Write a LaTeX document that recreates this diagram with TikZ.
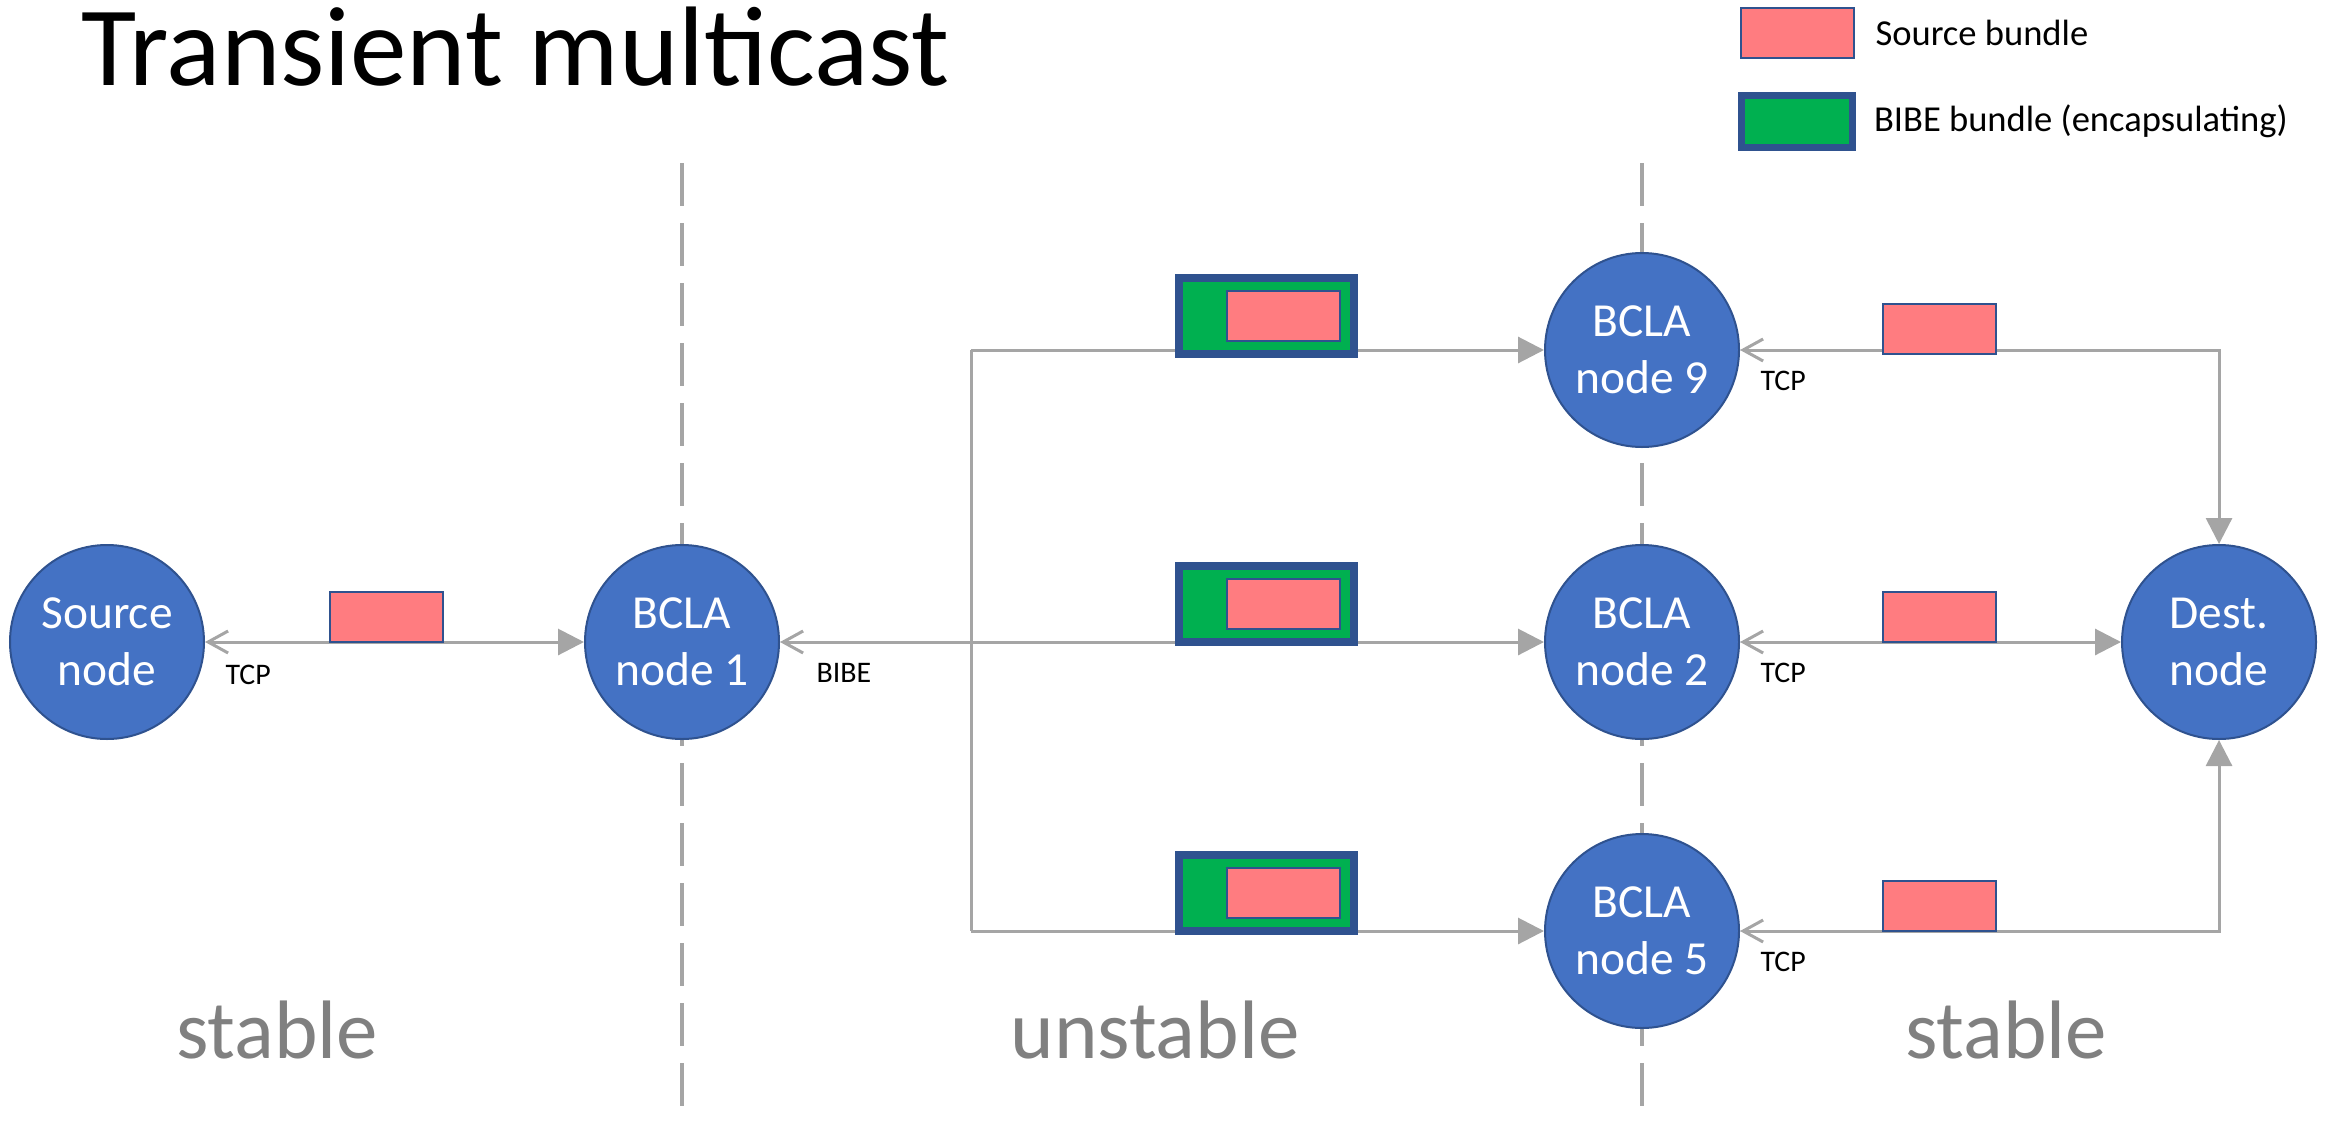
\documentclass[tikz,border=0pt]{standalone}
\usepackage{fontspec}
\setmainfont{Carlito}
\usetikzlibrary{shapes,arrows.meta,positioning,backgrounds}

\definecolor{nodeblue}{HTML}{4472C4}
\definecolor{nodeedge}{HTML}{2F528F}
\definecolor{bpink}{HTML}{FF7C80}
\definecolor{bgreen}{HTML}{00B050}
\definecolor{lgray}{HTML}{A5A5A5}
\definecolor{tgray}{HTML}{808080}

\begin{document}
\begin{tikzpicture}[x=1mm, y=1mm, line width=0.3mm, node distance=37.9mm,
                    >={Triangle[length=2.6mm,width=2.6mm]}]
\tikzstyle{bcla}=[circle, draw=nodeedge, fill=nodeblue, line width=0.2mm,
                  minimum size=19.4mm, inner sep=0pt, text=white, align=center,
                  font=\fontsize{13.5}{16.2}\selectfont]
\tikzstyle{link}=[draw=lgray, line width=0.3mm]
\tikzstyle{both}=[link, {Straight Barb[length=2mm,width=2.2mm]}-{Triangle[length=2.6mm,width=2.6mm]}]
\tikzstyle{barb}=[link, {Straight Barb[length=2mm,width=2.2mm]}-]
\tikzstyle{srcb}=[rectangle, draw=nodeedge, fill=bpink, line width=0.2mm,
                  minimum width=11.3mm, minimum height=5mm, inner sep=0pt, outer sep=0pt]
\tikzstyle{bibeb}=[rectangle, draw=nodeedge, fill=bgreen, line width=0.8mm,
                   minimum width=17.5mm, minimum height=7.6mm, inner sep=0pt, outer sep=0pt]
\tikzstyle{proto}=[font=\fontsize{8.5}{10}\selectfont, inner sep=0pt, anchor=base west]
\tikzstyle{region}=[font=\fontsize{23.6}{28}\selectfont, text=tgray, inner sep=0pt, anchor=base]
\tikzstyle{divider}=[draw=lgray, line width=0.4mm, dash pattern=on 4.3mm off 1.7mm]

\useasboundingbox (0,0) rectangle (233,-112.3);

\node [anchor=base west, inner sep=0pt, font=\fontsize{32.2}{36}\selectfont] (title) at (8.0,-8.5) {Transient multicast};

\node [bcla] (src) at (10.7,-64.2) {Source\\node};
\node [bcla] (n1) [right=of src] {BCLA\\node 1};
\node [bcla] (n2) [right=76.4mm of n1] {BCLA\\node 2};
\node [bcla] (n9) [above=9.6mm of n2] {BCLA\\node 9};
\node [bcla] (n5) [below=9.3mm of n2] {BCLA\\node 5};
\node [bcla] (dst) [right=38.1mm of n2] {Dest.\\node};
\coordinate [right=19.1mm of n1] (split);

\coordinate (top) at (0,-16.3);
\coordinate (bot) at (0,-112.3);
\begin{scope}[on background layer]
\draw [divider] (n1 |- top) -- (n1 |- bot);
\draw [divider] (n2 |- top) -- (n2 |- bot);
\end{scope}

\draw [both] (src) -- (n1);
\draw [barb] (n1) -- (split);
\draw [link] (split |- n9) -- (split |- n5);
\draw [link, ->] (split |- n9) -- (n9);
\draw [link, ->] (split) -- (n2);
\draw [link, ->] (split |- n5) -- (n5);

\draw [both] (n9) -- (n9 -| dst) -- (dst);
\draw [both] (n2) -- (dst);
\draw [both] (n5) -- (n5 -| dst) -- (dst);

\node [srcb, anchor=south] (b0) at (38.65,-64.2) {};

\node [bibeb, anchor=south] (g9) at (126.65,-35.4) {};
\node [bibeb, anchor=south] (g2) at (126.65,-64.2) {};
\node [bibeb, anchor=south] (g5) at (126.65,-93.1) {};
\node [srcb] (p9) at ([xshift=1.65mm]g9.center) {};
\node [srcb] (p2) at ([xshift=1.65mm]g2.center) {};
\node [srcb] (p5) at ([xshift=1.65mm]g5.center) {};

\node [srcb, anchor=south] (b9) at (193.9,-35.4) {};
\node [srcb, anchor=south] (b2) at (193.9,-64.2) {};
\node [srcb, anchor=south] (b5) at (193.9,-93.1) {};

\node [proto] (t0) at ([shift={(1.9mm,-4.2mm)}]src.east) {TCP};
\node [proto] (t1) at ([shift={(3.5mm,-4.0mm)}]n1.east) {BIBE};
\node [proto] (t9) at ([shift={(1.9mm,-4.0mm)}]n9.east) {TCP};
\node [proto] (t2) at ([shift={(1.9mm,-4.0mm)}]n2.east) {TCP};
\node [proto] (t5) at ([shift={(1.9mm,-4.0mm)}]n5.east) {TCP};

\node [region] (r1) at (27.7,-105.8) {stable};
\node [region] (r2) at (115.5,-105.8) {unstable};
\node [region] (r3) at (200.6,-105.8) {stable};

\node [srcb] (leg1) at (179.75,-3.3) {};
\node [bibeb, line width=0.7mm, minimum width=11.1mm, minimum height=5.2mm] (leg2) at (179.7,-12.15) {};
\node [inner sep=0pt, font=\fontsize{10.4}{12}\selectfont, right=2mm of leg1] (l1) {Source bundle};
\node [inner sep=0pt, font=\fontsize{10.4}{12}\selectfont, right=2mm of leg2] (l2) {BIBE bundle (encapsulating)};
\end{tikzpicture}
\end{document}
